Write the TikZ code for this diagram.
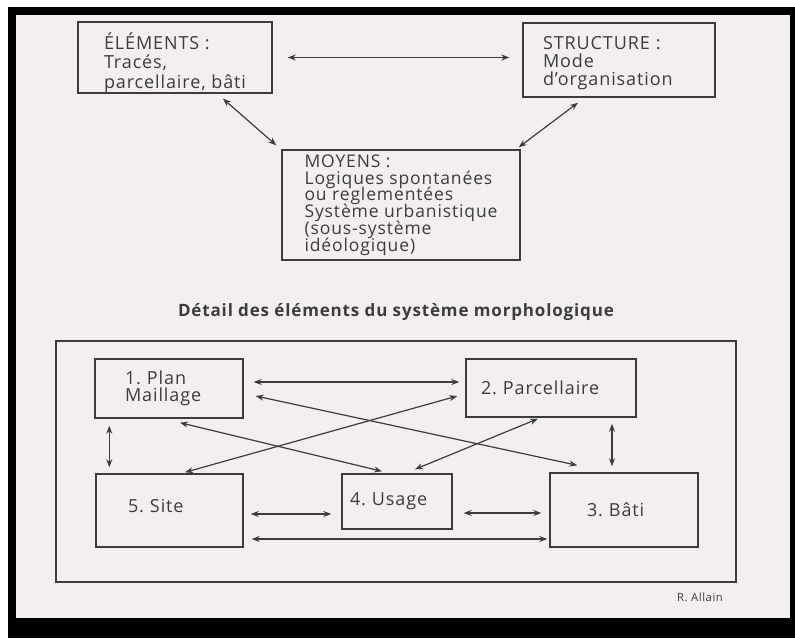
\documentclass[tikz,border=0pt]{standalone}
\usepackage{fontspec}
\setmainfont{Open Sans}[LetterSpace=5]
\usetikzlibrary{arrows.meta}
\definecolor{paper}{HTML}{F3EFF1}
\definecolor{ink}{HTML}{3C3C3C}
\tikzset{
  boite/.style={draw=ink, line width=1.4pt, text=ink, rectangle, inner ysep=0pt, font=\fontsize{18}{19.5}\selectfont},
  lien/.style={draw=ink, line width=1.2pt, {Stealth[length=8pt,width=6pt]}-{Stealth[length=8pt,width=6pt]}},
}
\frenchspacing
\lineskiplimit=-\maxdimen

\begin{document}
\begin{tikzpicture}[x=1pt,y=-1pt]
        \useasboundingbox (0,0) rectangle (795,638);
        \fill[white] (0,0) rectangle (795,638);
        \fill[black] (8,7) rectangle (795,638);
        \fill[paper] (16,15) rectangle (790,618);

        % systeme general
        \node[boite, minimum width=194pt, minimum height=71pt, align=left] (elem) at (175,57.5) {\rule{0pt}{27pt}ÉLÉMENTS :\\Tracés,\\parcellaire, bâti};
        \node[boite, minimum width=192pt, minimum height=74pt, inner xsep=20pt, text width=152pt, align=left,
              font=\fontsize{18}{18}\selectfont] (struct) at (619,60) {\rule{0pt}{20pt}STRUCTURE :\\Mode\\d'organisation};
        \node[boite, minimum width=238pt, minimum height=110pt, align=left,
              font=\fontsize{17.5}{16.8}\selectfont] (moyens) at (401,205) {MOYENS :\\Logiques spontanées\\ou reglementées\\Système urbanistique\\(sous-système\\idéologique)};
        \draw[lien, shorten <=15pt, shorten >=13pt] (elem.east) -- (elem.east -| struct.west);
        \draw[lien] ([xshift=48pt,yshift=-5pt]elem.south) -- ([xshift=-5pt,yshift=4pt]moyens.north west);
        \draw[lien] ([xshift=-41pt,yshift=-5pt]struct.south) -- ([xshift=-2pt,yshift=2pt]moyens.north east);

        % detail
        \node[text=ink, font=\bfseries\fontsize{17}{20}\selectfont] (titre) at (396,312) {Détail des éléments du système morphologique};
        \draw[ink, line width=1.4pt] (56,341) rectangle (736,582);
        \foreach \nom/\cx/\cy/\w/\h/\ix/\txt in {plan/169/388.5/148/59/30/{1. Plan\\Maillage},
                parc/551/388/170/58/15/{2. Parcellaire}, bati/624/510/148/74/37/{3. Bâti},
                usage/397/501.5/110/55/8/{4. Usage}, site/169.5/510.5/147/73/32/{5. Site\rule[-10pt]{0pt}{0pt}}} {
            \pgfmathsetmacro\tw{\w-2*\ix}
            \node[boite, font=\fontsize{18}{17}\selectfont, minimum width=\w pt, minimum height=\h pt,
                  inner xsep=\ix pt, text width=\tw pt, align=left] (\nom) at (\cx,\cy) {\txt};
        }
        \draw[lien] ([xshift=10pt,yshift=6.5pt]plan.east) -- ([xshift=-6pt,yshift=6pt]parc.west);
        \draw[lien] ([xshift=12pt,yshift=-7.5pt]plan.east) -- ([xshift=28pt,yshift=7pt]bati.north west);
        \draw[lien] ([xshift=-8pt,yshift=-8pt]parc.west) -- ([xshift=15.5pt,yshift=1pt]site.north);
        \draw[lien] ([xshift=11pt,yshift=-4pt]plan.south) -- ([xshift=-15pt,yshift=2pt]usage.north);
        \draw[lien] ([xshift=-13pt,yshift=-1pt]parc.south) -- ([xshift=18pt,yshift=4pt]usage.north);
        \draw[lien] ([xshift=15pt,yshift=-7pt]plan.south west) -- ([xshift=14pt,yshift=6pt]site.north west);
        \draw[lien] ([xshift=61pt,yshift=-6pt]parc.south) -- ([xshift=-12pt,yshift=6pt]bati.north);
        \draw[lien] ([xshift=7pt,yshift=-3.5pt]site.east) -- ([xshift=-10pt,yshift=-12.5pt]usage.west);
        \draw[lien] ([xshift=11pt,yshift=-11.5pt]usage.east) -- ([xshift=-8pt,yshift=-3pt]bati.west);
        \draw[lien] ([xshift=8pt,yshift=-28.5pt]site.east) -- ([xshift=-2pt,yshift=-29pt]bati.west);
        \node[text=ink, font=\fontsize{11.3}{14}\selectfont] (source) at (700,597) {R. Allain};
    \end{tikzpicture}
\end{document}
